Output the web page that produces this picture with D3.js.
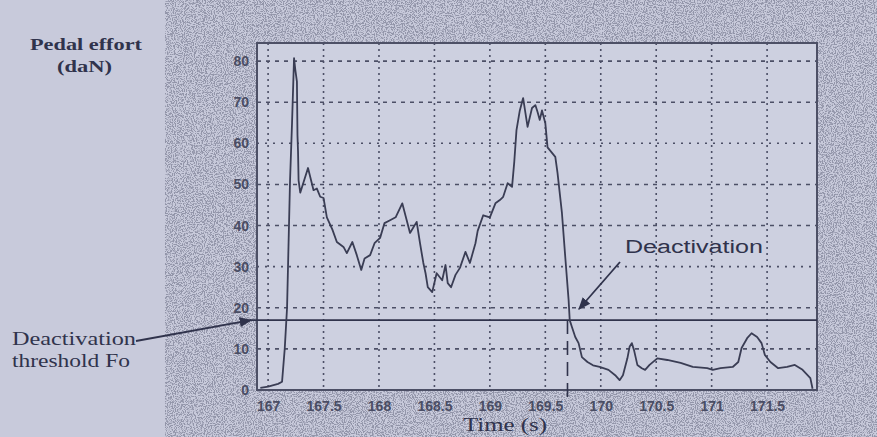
<!DOCTYPE html>
<html>
<head>
<meta charset="utf-8">
<script src="https://cdn.jsdelivr.net/npm/d3@7"></script>
<style>
  html, body { margin: 0; padding: 0; background: #c9cbdb; }
  svg { display: block; }
</style>
</head>
<body>
<div id="chart"></div>
<script>
// temps (s) et effort pédale (daN)
const time = [166.93, 167.00, 167.09, 167.126, 167.15, 167.171, 167.198, 167.216, 167.234, 167.245,
  167.26, 167.265, 167.27, 167.275, 167.29, 167.36, 167.41, 167.44, 167.47, 167.50,
  167.53, 167.58, 167.62, 167.68, 167.71, 167.76, 167.80, 167.84, 167.87, 167.92,
  167.96, 168.01, 168.05, 168.10, 168.15, 168.21, 168.25, 168.28, 168.34, 168.37,
  168.40, 168.42, 168.44, 168.48, 168.52, 168.57, 168.60, 168.62, 168.65, 168.69,
  168.73, 168.78, 168.82, 168.87, 168.89, 168.94, 169.00, 169.05, 169.09, 169.12,
  169.16, 169.20, 169.22, 169.24, 169.27, 169.30, 169.34, 169.38, 169.41, 169.43,
  169.45, 169.47, 169.50, 169.52, 169.59, 169.61, 169.65, 169.68, 169.71, 169.72,
  169.74, 169.77, 169.80, 169.83, 169.88, 169.93, 169.99, 170.07, 170.13, 170.17,
  170.20, 170.24, 170.26, 170.28, 170.30, 170.33, 170.37, 170.40, 170.44, 170.51,
  170.60, 170.72, 170.83, 170.96, 171.01, 171.08, 171.19, 171.24, 171.27, 171.32,
  171.36, 171.41, 171.45, 171.48, 171.53, 171.60, 171.68, 171.75, 171.82, 171.89, 171.91]
const effort = [0.5, 0.8, 1.5, 2.0, 10, 20, 51, 65, 80.7, 78,
  75, 62, 58, 51, 48, 54, 48.6, 49, 47, 46.7,
  42, 39, 36, 34.8, 33.3, 36, 32.8, 29.2, 32, 32.8,
  35.7, 37, 40.6, 41.3, 42, 45.4, 41.3, 38.2, 40.9, 35.7,
  30.9, 28.4, 25, 23.8, 28.4, 26.7, 30.4, 26, 25, 28,
  29.7, 33.6, 30.9, 35.7, 38.7, 42.5, 42, 45.4, 46.2, 47,
  50.3, 49.4, 55.5, 63.2, 68, 71, 64, 68.6, 69.3, 67.6,
  65.7, 68, 64.9, 59, 56.7, 52.8, 43, 32.3, 21.9, 17,
  15.3, 12.9, 11.4, 8, 6.8, 6, 5.6, 4.9, 3.6, 2.4,
  3.6, 7.7, 10.5, 11.4, 9.7, 6.1, 5.3, 4.9, 6.1, 7.7,
  7.3, 6.6, 5.6, 5.3, 4.9, 5.3, 5.6, 6.8, 10.2, 12.6,
  13.8, 12.9, 11.4, 8.5, 6.8, 5.3, 5.6, 6.1, 4.9, 2.9, 0.3]

const xTicks = [167, 167.5, 168, 168.5, 169, 169.5, 170, 170.5, 171, 171.5]
const yTicks = [0, 10, 20, 30, 40, 50, 60, 70, 80]
const threshold = 17          // seuil Fo
const deactivationTime = 169.70

const width = 877, height = 437
const ink = "#30334c", gridInk = "#4c4f66"

const svg = d3.select("#chart").append("svg")
  .attr("width", width).attr("height", height)

// grain de la photo autour du graphique
const defs = svg.append("defs")
const noise = defs.append("filter").attr("id", "grain")
  .attr("x", 0).attr("y", 0).attr("width", 1).attr("height", 1)
noise.append("feTurbulence").attr("type", "fractalNoise")
  .attr("baseFrequency", 0.9).attr("numOctaves", 2).attr("seed", 4)
noise.append("feColorMatrix").attr("type", "matrix")
  .attr("values", "0 0 0 0 0.22  0 0 0 0 0.23  0 0 0 0 0.32  7 0 0 0 -3.2")

svg.append("rect").attr("width", width).attr("height", height).attr("fill", "#c8cadb")
svg.append("rect").attr("x", 165).attr("y", 0).attr("width", width - 165).attr("height", height)
  .attr("filter", "url(#grain)").attr("opacity", 0.75)

const x = d3.scaleLinear().domain([166.9, 171.95]).range([257, 817])
const y = d3.scaleLinear().domain([0, 84.4]).range([390, 43])

// fond du tracé
svg.append("rect")
  .attr("x", x.range()[0]).attr("y", y.range()[1])
  .attr("width", x.range()[1] - x.range()[0]).attr("height", y.range()[0] - y.range()[1])
  .attr("fill", "#cdd0e0")

// grille
svg.append("g")
  .selectAll("line").data(yTicks.filter(d => d > 0)).join("line")
  .attr("x1", x.range()[0]).attr("x2", x.range()[1])
  .attr("y1", d => y(d)).attr("y2", d => y(d))
  .attr("stroke", gridInk).attr("stroke-width", 1.6)
  .attr("stroke-dasharray", d => (d === 30 || d === 60) ? "2,6" : "4,5")
svg.append("g")
  .selectAll("line").data(xTicks).join("line")
  .attr("x1", d => x(d)).attr("x2", d => x(d))
  .attr("y1", y.range()[1]).attr("y2", y.range()[0])
  .attr("stroke", gridInk).attr("stroke-width", 1.6)
  .attr("stroke-dasharray", "2,4")

// axes
const xAxis = svg.append("g").attr("transform", `translate(0,${y.range()[0]})`)
  .call(d3.axisBottom(x).tickValues(xTicks).tickSize(0).tickPadding(13).tickFormat(d3.format("")))
const yAxis = svg.append("g").attr("transform", `translate(${x.range()[0]},0)`)
  .call(d3.axisLeft(y).tickValues(yTicks).tickSize(0).tickPadding(8))
;[xAxis, yAxis].forEach(g => {
  g.select(".domain").remove()
  g.selectAll("text").attr("fill", "#4a4d64")
    .style("font-family", "'Liberation Sans', Arial, sans-serif")
    .style("font-size", "14px").style("font-weight", "bold")
})
xAxis.selectAll("text").attr("dy", "0.55em")

// cadre
svg.append("rect")
  .attr("x", x.range()[0]).attr("y", y.range()[1])
  .attr("width", x.range()[1] - x.range()[0]).attr("height", y.range()[0] - y.range()[1])
  .attr("fill", "none").attr("stroke", "#4d5066").attr("stroke-width", 2)
svg.append("line")
  .attr("x1", x.range()[0]).attr("x2", x.range()[1])
  .attr("y1", y(0)).attr("y2", y(0))
  .attr("stroke", gridInk).attr("stroke-width", 2).attr("stroke-dasharray", "4,3")

// seuil Fo
svg.append("line")
  .attr("x1", 250).attr("x2", x.range()[1])
  .attr("y1", y(threshold)).attr("y2", y(threshold))
  .attr("stroke", ink).attr("stroke-width", 1.6)

// instant de désactivation
svg.append("line")
  .attr("x1", x(deactivationTime)).attr("x2", x(deactivationTime))
  .attr("y1", y(threshold)).attr("y2", y(0) + 8)
  .attr("stroke", ink).attr("stroke-width", 1.6).attr("stroke-dasharray", "14,7")

// courbe d'effort
const line = d3.line().x(d => x(d[0])).y(d => y(d[1]))
svg.append("path")
  .datum(d3.zip(time, effort))
  .attr("d", line)
  .attr("fill", "none").attr("stroke", "#3a3d54").attr("stroke-width", 1.8)
  .attr("stroke-linejoin", "round")

// flèches
defs.append("marker").attr("id", "head")
  .attr("viewBox", "0 0 10 10").attr("refX", 9).attr("refY", 5)
  .attr("markerWidth", 7).attr("markerHeight", 7).attr("orient", "auto")
  .append("path").attr("d", "M0,1 L10,5 L0,9 Z").attr("fill", ink)
svg.append("line")
  .attr("x1", 136).attr("y1", 341).attr("x2", 251).attr("y2", y(threshold))
  .attr("stroke", ink).attr("stroke-width", 1.8).attr("marker-end", "url(#head)")
svg.append("line")
  .attr("x1", 620).attr("y1", 262).attr("x2", 579).attr("y2", 309)
  .attr("stroke", ink).attr("stroke-width", 1.8).attr("marker-end", "url(#head)")

// textes
const serif = "'Liberation Serif', 'DejaVu Serif', serif"
const label = (tx, ty, s, opts) => svg.append("text")
  .attr("x", tx).attr("y", ty).text(s)
  .attr("fill", ink)
  .style("font-family", opts.family || serif)
  .style("font-size", opts.size + "px")
  .style("font-weight", opts.weight || "normal")
  .attr("text-anchor", opts.anchor || "start")
  .attr("textLength", opts.len).attr("lengthAdjust", "spacingAndGlyphs")

label(30, 50, "Pedal effort", {size: 17, weight: "bold", len: 112})
label(57, 72, "(daN)", {size: 17, weight: "bold", len: 55})
label(12, 345, "Deactivation", {size: 19, len: 124})
label(12, 367, "threshold Fo", {size: 19, len: 118})
label(463, 431, "Time (s)", {size: 19, len: 84})
label(625, 253, "Deactivation", {size: 18, family: "'Liberation Sans', Arial, sans-serif", len: 138})
</script>
</body>
</html>
